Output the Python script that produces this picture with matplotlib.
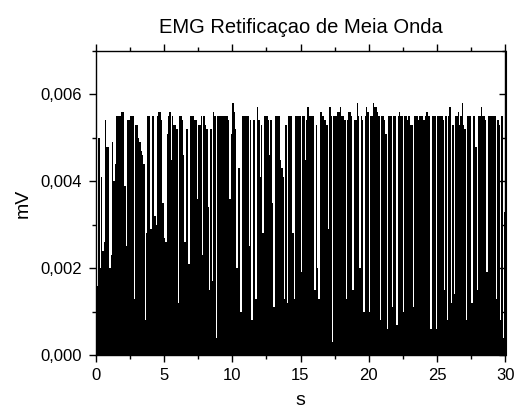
import numpy as np
import matplotlib
matplotlib.use("Agg")
import matplotlib.pyplot as plt
from matplotlib.ticker import MultipleLocator, FixedLocator

plt.rcParams['font.family'] = ['Liberation Sans', 'DejaVu Sans']

# Upper envelope of the half-wave rectified EMG, one value per 0.1 s bin,
# in units of 0.001 mV
env_00_05 = [2.8, 1.6, 5.0, 2.0, 4.1, 2.4, 2.6, 5.4, 4.8, 4.8,
             2.0, 2.3, 4.9, 4.0, 4.4, 5.5, 5.5, 5.5, 5.5, 5.6,
             5.6, 3.9, 2.5, 5.4, 5.4, 5.5, 5.5, 5.5, 1.3, 5.3,
             5.3, 5.0, 4.9, 4.7, 4.6, 4.4, 0.8, 2.8, 5.5, 5.5,
             2.9, 5.5, 5.5, 3.2, 3.0, 5.5, 5.6, 5.6, 5.4, 3.5]
env_05_10 = [2.7, 2.6, 5.1, 5.5, 5.6, 4.5, 5.5, 5.3, 5.3, 5.2,
             1.2, 5.5, 5.5, 5.4, 4.6, 2.6, 5.2, 5.2, 2.1, 5.5,
             5.5, 5.5, 5.4, 5.4, 3.6, 5.3, 5.3, 5.5, 2.3, 5.5,
             5.3, 5.2, 3.4, 1.5, 5.2, 1.7, 5.6, 5.5, 0.4, 5.5,
             5.5, 5.5, 5.5, 5.5, 5.5, 5.5, 5.5, 5.4, 3.6, 5.1]
env_10_15 = [5.8, 5.6, 5.2, 2.0, 4.3, 4.3, 1.0, 5.5, 5.5, 5.5,
             5.5, 5.5, 2.5, 5.4, 0.8, 5.4, 5.4, 1.3, 5.7, 5.4,
             4.1, 5.3, 2.8, 5.5, 5.5, 5.5, 5.4, 4.6, 5.4, 3.5,
             1.1, 5.5, 5.5, 5.5, 5.5, 4.5, 4.3, 4.1, 1.3, 5.3,
             1.2, 5.5, 5.5, 5.5, 2.8, 1.3, 5.5, 5.5, 5.5, 5.5]
env_15_20 = [1.9, 5.5, 5.5, 4.5, 5.4, 5.7, 5.5, 5.5, 5.5, 5.5,
             1.5, 5.3, 2.0, 1.3, 5.6, 5.6, 5.5, 5.4, 5.4, 5.3,
             2.9, 5.7, 5.5, 0.3, 5.5, 5.5, 5.5, 5.6, 5.6, 5.7,
             5.5, 5.5, 5.4, 1.3, 5.4, 5.6, 5.6, 5.5, 1.5, 5.4,
             5.4, 5.8, 5.5, 2.0, 5.5, 5.4, 1.0, 5.5, 5.7, 5.6]
env_20_25 = [1.0, 5.5, 5.5, 5.8, 5.7, 5.7, 5.6, 5.5, 0.8, 5.5,
             5.5, 5.4, 5.1, 0.6, 5.5, 5.5, 5.5, 1.1, 5.5, 5.5,
             0.7, 5.5, 5.6, 5.5, 5.5, 1.0, 5.5, 5.5, 5.4, 5.5,
             5.3, 5.3, 1.1, 5.5, 5.5, 5.5, 5.4, 5.5, 5.5, 5.5,
             5.4, 5.5, 5.6, 5.5, 5.5, 0.6, 5.5, 5.5, 5.5, 0.6]
env_25_30 = [5.5, 5.5, 5.5, 5.5, 5.4, 1.5, 5.5, 0.8, 5.5, 5.7,
             1.2, 5.3, 1.4, 5.5, 5.5, 5.6, 5.3, 5.5, 5.8, 5.3,
             5.2, 0.8, 5.5, 5.5, 5.5, 1.2, 5.5, 5.5, 4.8, 1.5,
             5.5, 5.5, 5.7, 5.5, 5.5, 5.4, 1.9, 5.5, 5.5, 5.5,
             5.5, 5.5, 5.5, 1.3, 5.4, 5.3, 0.8, 5.5, 0.4, 3.3]

bin_width_s = 0.1
x_ticks = [0, 5, 10, 15, 20, 25, 30]
y_ticks = [0.000, 0.002, 0.004, 0.006]
y_tick_labels = ["0,000", "0,002", "0,004", "0,006"]

env_mV = np.array(env_00_05 + env_05_10 + env_10_15 + env_15_20 + env_20_25 + env_25_30) * 1e-3
edges = np.arange(len(env_mV) + 1) * bin_width_s

fig = plt.figure(figsize=(5.15, 4.12), dpi=100)
ax = fig.add_axes([95.5 / 515, 57 / 412, 410 / 515, 304 / 412])

ax.stairs(env_mV, edges, baseline=0, fill=True, color='black', linewidth=0)

ax.set_xlim(0, 30)
ax.set_ylim(0, 0.007)
ax.xaxis.set_major_locator(FixedLocator(x_ticks))
ax.xaxis.set_minor_locator(MultipleLocator(2.5))
ax.yaxis.set_major_locator(FixedLocator(y_ticks))
ax.set_yticklabels(y_tick_labels)
ax.yaxis.set_minor_locator(MultipleLocator(0.001))

ax.tick_params(axis='x', which='both', direction='out', top=True, bottom=True,
               labelsize=12, pad=4)
ax.tick_params(axis='x', which='major', length=5, width=1)
ax.tick_params(axis='x', which='minor', length=3, width=1)
ax.tick_params(axis='y', which='both', direction='out', left=True, right=False,
               labelsize=12, pad=5)
ax.tick_params(axis='y', which='major', length=5, width=1)
ax.tick_params(axis='y', which='minor', length=3, width=1)

sec = ax.secondary_yaxis('right')
sec.yaxis.set_major_locator(FixedLocator(y_ticks))
sec.yaxis.set_minor_locator(MultipleLocator(0.001))
sec.tick_params(axis='y', which='both', direction='in', labelright=False)
sec.tick_params(axis='y', which='major', length=5, width=1)
sec.tick_params(axis='y', which='minor', length=3, width=1)

for sp in ax.spines.values():
    sp.set_linewidth(1)

ax.set_title("EMG Retificaçao de Meia Onda", fontsize=14.5, pad=13)
ax.set_xlabel("s", fontsize=14, labelpad=7)
ax.set_ylabel("mV", fontsize=14, labelpad=6)

fig.savefig("out.png", dpi=100)
